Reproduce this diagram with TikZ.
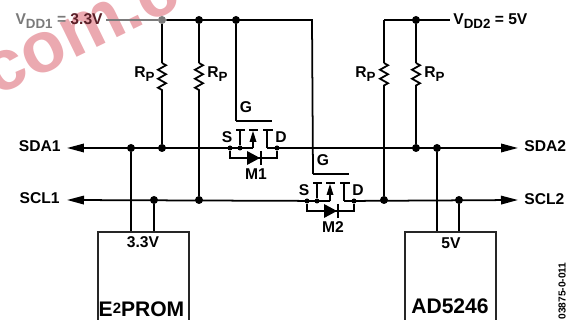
\documentclass[tikz,border=0pt]{standalone}
\usepackage{fontspec}
\setmainfont{Liberation Sans}
\usetikzlibrary{positioning,arrows.meta,decorations.pathmorphing}
\definecolor{markpink}{HTML}{EBA9B0}
\definecolor{fadegray}{HTML}{7A7A7A}
\definecolor{fadered}{HTML}{5A2028}
\newcommand{\lowtxt}[1]{\raisebox{-0.45ex}{\fontsize{7.6}{8}\selectfont #1}}

\begin{document}
\begin{tikzpicture}[
        x=0.02cm, y=-0.02cm,
        every node/.style={font=\bfseries\fontsize{8.9}{10}\selectfont, inner sep=0pt},
        wire/.style={line width=1pt},
        signal/.style={wire, -{Triangle[length=0.34cm,width=0.17cm]}},
        resistor/.style={wire, decorate, decoration={zigzag, segment length=0.18cm, amplitude=0.08cm}},
        junction/.style={circle, fill=black, minimum size=0.16cm},
        tapdot/.style={circle, fill=black, minimum size=0.1cm},
        chip/.style={rectangle, draw=black!85, line width=1pt, anchor=north west, minimum width=1.82cm, minimum height=1.88cm},
        tag/.style={anchor=base}
    ]
        \useasboundingbox (0,0) rectangle (579,320);

        % Watermark
        \node[text=markpink, font=\bfseries\fontsize{41}{42}\selectfont, rotate=26] (mark) at (82,34) {com.c};

        % Rails
        \coordinate (vdd1) at (106,20);
        \coordinate (vdd2) at (450,20);
        \coordinate (corner1) at (312,20);
        \coordinate (corner2) at (384,20);
        \coordinate (sda1) at (67,148);
        \coordinate (sda2) at (518,148);
        \coordinate (scl1) at (67,200);
        \coordinate (scl2) at (518,200);

        % Top junctions
        \node[junction, fill=fadegray] (top1) at (162,20) {};
        \node[junction] (top2) at (199,20) {};
        \node[junction] (top3) at (236,20) {};
        \node[junction] (top4) at (416,20) {};

        % Bus junctions
        \node[junction] (sdaA) at (131,148) {};
        \node[junction] (sdaB) at (162,148) {};
        \node[junction] (sdaC) at (416,148) {};
        \node[junction] (sdaD) at (437,148) {};
        \node[junction] (sclA) at (154,200) {};
        \node[junction] (sclB) at (199,200) {};
        \node[junction] (sclC) at (384,200) {};
        \node[junction] (sclD) at (459,200) {};

        % Chips
        \node[chip] (eeprom) at (97,231) {};
        \node[chip] (digipot) at (404,231) {};

        % Pass transistors
        \foreach \name/\dx/\dy in {1/0/0, 2/77/53} {
            \begin{scope}[shift={(\dx,\dy)}]
                \coordinate (gateL\name) at (236,121);
                \coordinate (gateR\name) at (272,121);
                \coordinate (midT\name) at (253,130);
                \coordinate (midB\name) at (253,148);
                \coordinate (drnT\name) at (267,130);
                \coordinate (drnB\name) at (267,148);
                \node[tapdot] (src\name) at (230,148) {};
                \node[tapdot] (tap\name) at (240,148) {};
                \node[tapdot] (drn\name) at (277,148) {};
                \draw[wire] (gateL\name) -- (gateR\name);
                \draw[wire] (tap\name) -- (240,130) (236,130) -- (245,130);
                \draw[wire] (249,130) -- (258,130);
                \draw[wire] (263,130) -- (273,130);
                \draw[wire] (midB\name) -- (midT\name |- 0,141);
                \fill (249.5,142) -- (256.5,142) -- (253,131) -- cycle;
                \draw[wire] (drnB\name) -- (drnT\name);
                \draw[wire] (src\name) |- (277,158) -- (drn\name);
                \fill (247,151) -- (260,158) -- (247,165) -- cycle;
                \draw[wire] (261,151) -- (261,165);
                \draw[wire] (tap\name) -- (midB\name);
                \node[tag] (lblS\name) at (227,143) {S};
                \node[tag] (lblD\name) at (281,143) {D};
                \node[tag] (lblG\name) at (246,113) {G};
                \node[tag] (lblM\name) at (256,180) {M\name};
            \end{scope}
        }

        % Supply wires
        \draw[wire, fadegray] (vdd1) -- (top1);
        \draw[wire] (top1) -- (corner1) -- (gateL2);
        \draw[wire] (corner2) -- (vdd2);
        \draw[wire] (top3) -- (gateL1);
        \draw[wire] (corner2) -- (384,63);
        \draw[resistor] (384,63) -- (384,88);
        \draw[wire] (384,88) -- (sclC);
        \draw[wire] (top4) -- (416,63);
        \draw[resistor] (416,63) -- (416,88);
        \draw[wire] (416,88) -- (sdaC);
        \draw[wire] (top1) -- (162,63);
        \draw[resistor] (162,63) -- (162,90);
        \draw[wire] (162,90) -- (sdaB);
        \draw[wire] (top2) -- (199,63);
        \draw[resistor] (199,63) -- (199,90);
        \draw[wire] (199,90) -- (sclB);

        % Bus wires
        \draw[signal] (midB1) -- (sda1);
        \draw[signal] (drnB1) -- (sda2);
        \draw[signal] (midB2) -- (scl1);
        \draw[signal] (drnB2) -- (scl2);

        % Chip wires
        \draw[wire] (sdaA) -- (sdaA |- eeprom.north);
        \draw[wire] (sclA) -- (sclA |- eeprom.north);
        \draw[wire] (sdaD) -- (sdaD |- digipot.north);
        \draw[wire] (sclD) -- (sclD |- digipot.north);

        % Labels
        \node[anchor=base east] (lblvdd1) at (103,25) {\color{fadegray}V\lowtxt{DD1} = \color{fadered}3.3V};
        \node[anchor=base west] (lblvdd2) at (453,25) {V\lowtxt{DD2} = 5V};
        \node[anchor=base east] (lblsda1) at (61,152) {SDA1};
        \node[anchor=base east] (lblscl1) at (60,204) {SCL1};
        \node[anchor=base west] (lblsda2) at (524,152) {SDA2};
        \node[anchor=base west] (lblscl2) at (524,205) {SCL2};
        \node[anchor=base east] (lblr1) at (155,78) {R\lowtxt{P}};
        \node[anchor=base west] (lblr2) at (207,78) {R\lowtxt{P}};
        \node[anchor=base east] (lblr3) at (376,78) {R\lowtxt{P}};
        \node[anchor=base west] (lblr4) at (424,78) {R\lowtxt{P}};
        \node[tag] (lblee) at (143,248) {3.3V};
        \node[tag] (lblpot) at (451,249) {5V};
        \node[tag, font=\bfseries\fontsize{12}{14}\selectfont] (nameee) at (141.5,317) {E\raisebox{0.28ex}{\fontsize{8.5}{9}\selectfont 2}PROM};
        \node[tag, font=\bfseries\fontsize{12}{14}\selectfont] (namepot) at (450,314) {AD5246};
        \node[font=\bfseries\fontsize{5.8}{7}\selectfont, rotate=90] (code) at (562,291) {03875-0-011};
    \end{tikzpicture}
\end{document}
